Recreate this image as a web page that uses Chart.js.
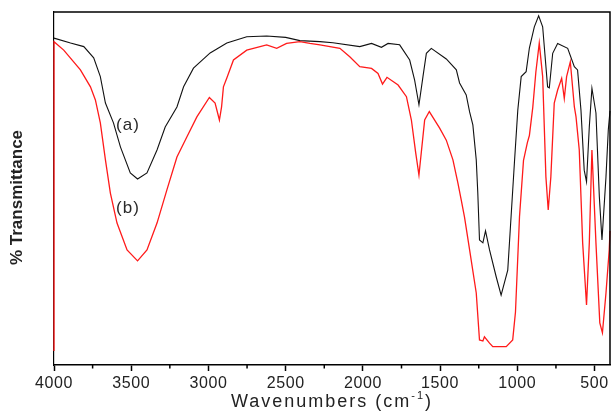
<!DOCTYPE html>
<html>
<head>
<meta charset="utf-8">
<script src="https://cdn.jsdelivr.net/npm/chart.js@4.4.1/dist/chart.umd.min.js"></script>
<style>
  body { margin: 0; background: #fff; }
  #wrap { width: 611px; height: 411px; }
</style>
</head>
<body>
<div id="wrap"><canvas id="ftir"></canvas></div>
<script>
// spectrum (a) - black
const aWave = [4000, 3893, 3807, 3743, 3700, 3667, 3615, 3570, 3506, 3459, 3398, 3333, 3280, 3204, 3161, 3097, 2989, 2881, 2752, 2623, 2500, 2408, 2278, 2194, 2020, 1944, 1880, 1837, 1762, 1697, 1665, 1637, 1611, 1589, 1557, 1460, 1395, 1374, 1331, 1309, 1288, 1266, 1256, 1245, 1223, 1206, 1180, 1137, 1105, 1062, 1019, 997, 975, 943, 922, 890, 862, 836, 804, 793, 771, 739, 674, 631, 610, 588, 567, 552, 534, 517, 491, 469, 452, 426, 411, 400];
const aTrans = [92.6, 91.2, 90.2, 87.0, 81.7, 74.2, 68.6, 61.8, 54.4, 52.7, 54.4, 60.9, 67.4, 73.1, 78.8, 84.1, 88.4, 91.2, 93.0, 93.2, 92.8, 91.9, 91.6, 91.3, 90.2, 91.1, 90.0, 91.1, 90.7, 86.4, 80.7, 73.7, 81.7, 88.3, 89.7, 86.7, 83.6, 79.9, 76.5, 71.7, 68.0, 58.1, 48.7, 35.4, 34.6, 38.0, 32.6, 25.0, 19.8, 26.9, 57.2, 72.2, 81.7, 83.1, 89.8, 95.8, 98.9, 95.8, 78.8, 78.5, 88.3, 91.1, 89.7, 84.5, 83.6, 72.2, 55.2, 51.9, 67.5, 78.4, 71.4, 47.7, 35.4, 53.3, 66.6, 72.0];

// spectrum (b) - red
const bWave = [4000, 4000, 3937, 3829, 3764, 3732, 3700, 3667, 3635, 3592, 3527, 3459, 3398, 3333, 3269, 3204, 3140, 3075, 2994, 2957, 2929, 2915, 2903, 2881, 2838, 2752, 2623, 2558, 2494, 2408, 2343, 2278, 2149, 2085, 2020, 1944, 1902, 1873, 1844, 1772, 1718, 1686, 1658, 1637, 1600, 1570, 1503, 1460, 1417, 1385, 1363, 1342, 1309, 1266, 1245, 1223, 1213, 1180, 1159, 1072, 1030, 1012, 986, 960, 935, 922, 900, 880, 858, 836, 815, 800, 783, 761, 739, 713, 696, 681, 657, 631, 620, 599, 577, 552, 534, 517, 491, 466, 449, 426, 405, 400];
const bTrans = [4.0, 91.6, 89.2, 83.6, 78.8, 75.1, 68.6, 58.1, 48.7, 40.2, 32.6, 29.5, 32.6, 40.2, 49.6, 58.9, 64.6, 70.3, 75.8, 74.2, 69.4, 73.1, 78.8, 81.3, 86.4, 89.2, 90.7, 89.7, 91.1, 91.6, 91.1, 90.7, 89.7, 87.3, 84.5, 84.0, 82.6, 79.6, 81.5, 79.3, 76.0, 69.4, 60.1, 53.8, 69.4, 71.8, 67.1, 63.7, 58.1, 51.6, 46.7, 41.9, 32.6, 20.4, 7.1, 6.8, 8.0, 6.2, 5.2, 5.2, 7.1, 15.0, 42.0, 58.0, 63.0, 65.0, 73.0, 83.0, 91.2, 81.7, 53.3, 43.9, 53.3, 74.2, 77.9, 81.2, 75.5, 81.7, 85.9, 73.2, 70.3, 60.9, 34.6, 17.0, 34.6, 60.9, 34.6, 11.9, 9.1, 20.4, 32.6, 38.0];

const xTicks = [500, 1000, 1500, 2000, 2500, 3000, 3500, 4000];
const minorTicks = [750, 1250, 1750, 2250, 2750, 3250, 3750];

const tagText = ['(a)', '(b)'];
const tagWave = [3521, 3521];
const tagTrans = [68.0, 44.5];

const FONT = '"Liberation Sans", Arial, sans-serif';
const pts = (w, t) => w.map((v, i) => ({ x: v, y: t[i] }));

// top + right sides of the box, minor ticks, axis titles, curve tags
const boxPlugin = {
    id: 'box',
    beforeDraw(chart) {
        chart.ctx.letterSpacing = '0.6px';
    },
    afterDraw(chart) {
        const ctx = chart.ctx;
        const a = chart.chartArea;
        const xs = chart.scales.x;
        const ys = chart.scales.y;
        ctx.save();
        ctx.strokeStyle = '#000';
        ctx.lineWidth = 1.5;
        ctx.beginPath();
        ctx.moveTo(a.left, a.top);
        ctx.lineTo(a.right, a.top);
        ctx.lineTo(a.right, a.bottom);
        ctx.stroke();
        minorTicks.forEach(v => {
            const px = xs.getPixelForValue(v);
            ctx.beginPath();
            ctx.moveTo(px, a.bottom);
            ctx.lineTo(px, a.bottom + 3.5);
            ctx.stroke();
        });

        // x axis title with superscript
        ctx.fillStyle = '#222';
        ctx.textBaseline = 'alphabetic';
        ctx.textAlign = 'left';
        ctx.letterSpacing = '2px';
        const big = '18px ' + FONT, small = '11px ' + FONT;
        const p1 = 'Wavenumbers (cm', p2 = '-1', p3 = ')';
        ctx.font = big;
        const w1 = ctx.measureText(p1).width, w3 = ctx.measureText(p3).width;
        ctx.font = small;
        const w2 = ctx.measureText(p2).width;
        let tx = (a.left + a.right) / 2 - (w1 + w2 + w3) / 2;
        const ty = a.bottom + 42;
        ctx.font = big;
        ctx.fillText(p1, tx, ty);
        ctx.font = small;
        ctx.fillText(p2, tx + w1, ty - 8);
        ctx.font = big;
        ctx.fillText(p3, tx + w1 + w2, ty);

        // y axis title, sits a little below the middle
        ctx.letterSpacing = '0px';
        ctx.save();
        ctx.translate(17, (a.top + a.bottom) / 2 + 9);
        ctx.rotate(-Math.PI / 2);
        ctx.font = 'bold 17px ' + FONT;
        ctx.textAlign = 'center';
        ctx.textBaseline = 'middle';
        ctx.fillText('% Transmittance', 0, 0);
        ctx.restore();

        ctx.letterSpacing = '1px';
        ctx.fillStyle = '#2a2a2a';
        ctx.font = '17px ' + FONT;
        ctx.textAlign = 'center';
        ctx.textBaseline = 'middle';
        tagText.forEach((t, i) => {
            ctx.fillText(t, xs.getPixelForValue(tagWave[i]), ys.getPixelForValue(tagTrans[i]));
        });
        ctx.restore();
        ctx.letterSpacing = '0px';
    }
};

new Chart(document.getElementById('ftir'), {
    type: 'line',
    data: {
        datasets: [
            {
                label: 'b',
                data: pts(bWave, bTrans),
                borderColor: '#ff1a1a',
                borderWidth: 1.3,
                pointRadius: 0,
                tension: 0,
                clip: 4
            },
            {
                label: 'a',
                data: pts(aWave, aTrans),
                borderColor: '#111',
                borderWidth: 1.1,
                pointRadius: 0,
                tension: 0,
                clip: 4
            }
        ]
    },
    options: {
        responsive: true,
        maintainAspectRatio: false,
        animation: false,
        layout: { padding: { top: 12, right: 1, left: 0, bottom: 0 } },
        plugins: { legend: { display: false }, tooltip: { enabled: false } },
        scales: {
            x: {
                type: 'linear',
                reverse: true,
                min: 400,
                max: 4000,
                afterBuildTicks: s => { s.ticks = xTicks.map(v => ({ value: v })); },
                afterFit: s => { s.height = 46; },
                border: { display: true, color: '#000', width: 1.5, z: -1 },
                grid: { drawOnChartArea: false, drawTicks: true, tickLength: 6, tickColor: '#000', tickWidth: 1.5 },
                ticks: {
                    color: '#222',
                    padding: 3,
                    maxRotation: 0,
                    autoSkip: false,
                    callback: v => String(v),
                    font: { family: FONT, size: 16 }
                }
            },
            y: {
                min: 0,
                max: 100,
                afterFit: s => { s.width = 54; },
                border: { display: true, color: '#000', width: 1.2, z: -1 },
                grid: { display: false },
                ticks: { display: false }
            }
        }
    },
    plugins: [boxPlugin]
});
</script>
</body>
</html>
